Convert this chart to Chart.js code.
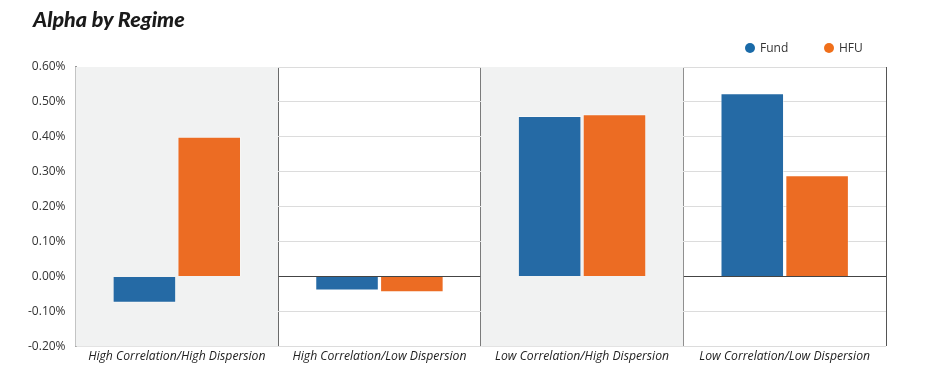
<!DOCTYPE html>
<html>
<head>
<meta charset="utf-8">
<script src="https://cdn.jsdelivr.net/npm/chart.js@4"></script>
<style>
  html, body { margin: 0; padding: 0; background: #fff; }
  #wrap { width: 926px; height: 387px; position: relative; }
  #title { position: absolute; left: 33px; top: 6px; font: italic 900 21.5px Lato, sans-serif; color: #1a1a1a; }
  .leg { position: absolute; top: 39px; font: 12px 'Open Sans', sans-serif; color: #333; display: flex; align-items: center; }
  .leg i { display: inline-block; width: 10px; height: 10px; border-radius: 50%; margin-right: 5px; }
</style>
</head>
<body>
<div id="wrap">
  <canvas id="chart"></canvas>
  <div id="title">Alpha by Regime</div>
  <div class="leg" style="left:745px"><i style="background:#1a6aa8"></i>Fund</div>
  <div class="leg" style="left:824px"><i style="background:#f06f1a"></i>HFU</div>
</div>
<script>
const regimes = [
  'High Correlation/High Dispersion',
  'High Correlation/Low Dispersion',
  'Low Correlation/High Dispersion',
  'Low Correlation/Low Dispersion',
];
const fundAlpha = [-0.075, -0.04, 0.46, 0.525];
const hfuAlpha = [0.40, -0.045, 0.465, 0.29];
const shadedBands = [0, 2]; // categories drawn with grey background

// paints the alternating grey bands behind the bars
const bandPlugin = {
  id: 'bands',
  beforeDatasetsDraw(chart) {
    const { ctx, chartArea, scales: { x } } = chart;
    const half = (x.getPixelForValue(1) - x.getPixelForValue(0)) / 2;
    ctx.save();
    ctx.fillStyle = '#f1f2f2';
    shadedBands.forEach((i) => {
      const c = x.getPixelForValue(i);
      ctx.fillRect(c - half, chartArea.top, half * 2, chartArea.bottom - chartArea.top);
    });
    ctx.restore();
  },
};

new Chart(document.getElementById('chart').getContext('2d'), {
  type: 'bar',
  data: {
    labels: regimes,
    datasets: [
      { label: 'Fund', data: fundAlpha, backgroundColor: '#256aa5', borderColor: 'rgba(255,255,255,0.45)', borderWidth: 1, categoryPercentage: 0.64, barPercentage: 0.98 },
      { label: 'HFU', data: hfuAlpha, backgroundColor: '#ec6c23', borderColor: 'rgba(255,255,255,0.45)', borderWidth: 1, categoryPercentage: 0.64, barPercentage: 0.98 },
    ],
  },
  options: {
    responsive: true,
    maintainAspectRatio: false,
    animation: false,
    layout: { padding: { left: 18, right: 40, top: 67, bottom: 20 } },
    plugins: {
      legend: { display: false },
      tooltip: { enabled: false },
    },
    scales: {
      x: {
        grid: { offset: true, color: '#555', lineWidth: 1, drawTicks: false },
        border: { display: false },
        ticks: { color: '#222', padding: 3, font: { family: 'Open Sans', size: 12.2, style: 'italic' }, maxRotation: 0 },
      },
      y: {
        min: -0.2,
        max: 0.6,
        grid: {
          color: (c) => (c.tick && c.tick.value === 0 ? '#444' : '#dcdcdc'),
          drawTicks: false,
        },
        border: { color: '#999', width: 2 },
        ticks: {
          stepSize: 0.1,
          padding: 10,
          color: '#333',
          font: { family: 'Open Sans', size: 12 },
          callback: (v) => v.toFixed(2) + '%',
        },
      },
    },
  },
  plugins: [bandPlugin],
});
</script>
</body>
</html>
